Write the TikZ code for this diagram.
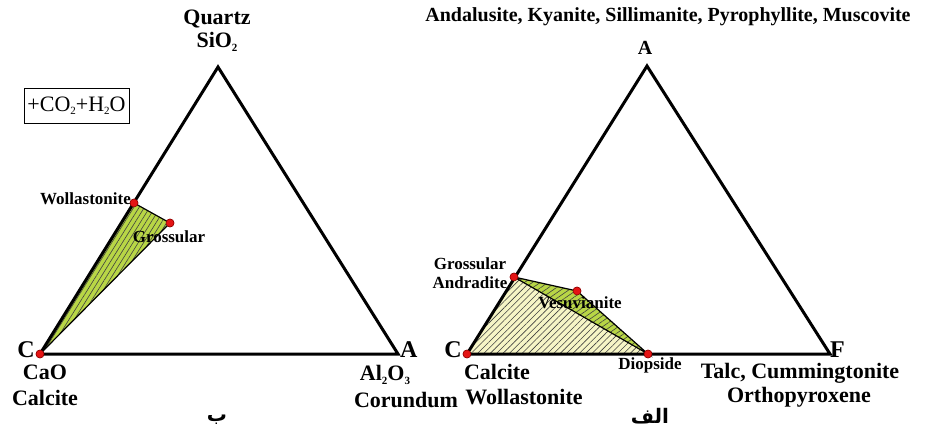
\documentclass[tikz,border=0pt]{standalone}
\usepackage{fontspec}
\setmainfont{Liberation Serif}
\newfontfamily\arabicfont[Script=Arabic]{DejaVu Sans}
\TeXXeTstate=1
\usetikzlibrary{patterns.meta}
\definecolor{fieldgreen}{RGB}{184,214,70}
\definecolor{fieldyellow}{RGB}{246,245,198}
\definecolor{dotred}{RGB}{228,20,20}
\newcommand\lowsub[1]{\raisebox{-0.35ex}{\fontsize{11}{11}\selectfont #1}}

\begin{document}
\begin{tikzpicture}[
        x=1pt, y=-1pt,
        side/.style={line width=3pt, line join=miter, line cap=round},
        tie/.style={line width=1.2pt},
        phase/.style={circle, draw=red!55!black, fill=dotred, line width=0.5pt,
            inner sep=0pt, minimum size=8pt},
        vertex/.style={font=\bfseries\fontsize{24}{26}\selectfont, inner sep=0pt},
        chem/.style={font=\bfseries\fontsize{22}{24}\selectfont, inner sep=0pt,
            align=center},
        mineral/.style={font=\bfseries\fontsize{17}{19}\selectfont, inner sep=0pt},
        hatch/.style={pattern={Lines[angle=#1,distance=4.5pt,line width=0.6pt]},
            pattern color=black!75}
    ]
    \useasboundingbox (0,0) rectangle (926,430);

    % left diagram (CaO - SiO2 - Al2O3)
    \coordinate (qz) at (218,67);
    \coordinate (cl) at (40,354);
    \coordinate (cr) at (398,354);
    \node[phase] (calL) at (cl) {};
    \node[phase] (wol) at (134,203) {};
    \node[phase] (grsL) at (170,223) {};

    \fill[fieldgreen] (calL.center) -- (wol.center) -- (grsL.center) -- cycle;
    \fill[hatch=58] (calL.center) -- (wol.center) -- (grsL.center) -- cycle;
    \draw[tie] (wol.center) -- (grsL.center) -- (calL.center);
    \draw[side] (cl) -- (qz) -- (cr) -- cycle;
    \node[phase] at (calL) {};
    \node[phase] at (wol) {};
    \node[phase] at (grsL) {};

    \node[chem] (quartz) at (217,19) {Quartz};
    \node[chem] (sio) at (217,42) {SiO\lowsub{2}};
    \node[draw, line width=0.8pt, minimum width=105pt, minimum height=35pt,
        inner sep=0pt, font=\fontsize{22}{24}\selectfont] (fluid) at (76.5,105.5)
        {+CO\lowsub{2}+H\lowsub{2}O};
    \node[mineral, anchor=east] (wollbl) at (131,199) {Wollastonite};
    \node[mineral] (grslbl) at (169,237) {Grossular};
    \node[vertex, anchor=east] (cllbl) at (35,350) {C};
    \node[chem] (cao) at (45,372) {CaO};
    \node[chem] (calc) at (45,398) {Calcite};
    \node[vertex, anchor=west] (allbl) at (400,350) {A};
    \node[chem] (alo) at (385,375) {Al\lowsub{2}O\lowsub{3}};
    \node[chem] (cor) at (406,400) {Corundum};
    \node[font=\arabicfont\bfseries\fontsize{20}{22}\selectfont, inner sep=0pt]
        (tagb) at (217,420) {\beginR ب\endR};

    % right diagram (C - A - F)
    \coordinate (ra) at (647,66);
    \coordinate (rc) at (467,354);
    \coordinate (rf) at (830,354);
    \node[phase] (calR) at (rc) {};
    \node[phase] (grsR) at (514,277) {};
    \node[phase] (ves) at (577,291) {};
    \node[phase] (dio) at (648,354) {};

    \fill[fieldyellow] (calR.center) -- (grsR.center) -- (dio.center) -- cycle;
    \fill[hatch=45] (calR.center) -- (grsR.center) -- (dio.center) -- cycle;
    \fill[fieldgreen] (grsR.center) -- (ves.center) -- (dio.center) -- cycle;
    \fill[hatch=35] (grsR.center) -- (ves.center) -- (dio.center) -- cycle;
    \draw[tie] (grsR.center) -- (ves.center) -- (dio.center) -- (grsR.center);
    \draw[side] (rc) -- (ra) -- (rf) -- cycle;
    \node[phase] at (calR) {};
    \node[phase] at (grsR) {};
    \node[phase] at (ves) {};
    \node[phase] at (dio) {};

    \node[font=\bfseries\fontsize{20}{22}\selectfont, inner sep=0pt] (alumina)
        at (668,17) {Andalusite, Kyanite, Sillimanite, Pyrophyllite, Muscovite};
    \node[font=\bfseries\fontsize{20}{22}\selectfont, inner sep=0pt] (atop)
        at (645,48) {A};
    \node[mineral, align=center] (grsrlbl) at (470,273) {Grossular\\Andradite};
    \node[mineral] (veslbl) at (580,303) {Vesuvianite};
    \node[mineral] (diolbl) at (650,365) {Diopside};
    \node[vertex, anchor=east] (crlbl) at (462,350) {C};
    \node[vertex, anchor=west] (frlbl) at (830,350) {F};
    \node[chem] (calcR) at (497,372) {Calcite};
    \node[chem] (wolR) at (524,397) {Wollastonite};
    \node[chem] (talc) at (800,373) {Talc, Cummingtonite};
    \node[chem] (opx) at (799,397) {Orthopyroxene};
    \node[font=\arabicfont\bfseries\fontsize{20}{22}\selectfont, inner sep=0pt]
        (taga) at (650,416) {\beginR الف\endR};
\end{tikzpicture}
\end{document}
